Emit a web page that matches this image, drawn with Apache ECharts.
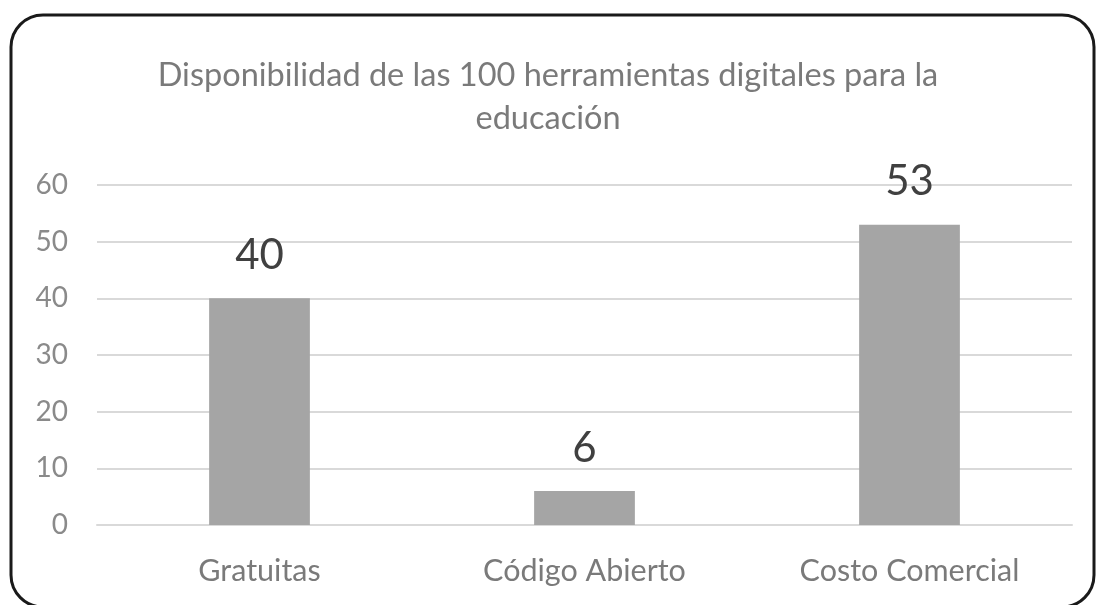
<!DOCTYPE html>
<html>
<head>
<meta charset="utf-8">
<script src="https://cdn.jsdelivr.net/npm/echarts@6/dist/echarts.min.js"></script>
<style>
  html, body { margin: 0; padding: 0; background: #fff; }
  #chart { width: 1096px; height: 605px; }
</style>
</head>
<body>
<div id="chart"></div>
<script>
const categories = ['Gratuitas', 'Código Abierto', 'Costo Comercial']
const values = [40, 6, 53]
const titleText = 'Disponibilidad de las 100 herramientas digitales para la\neducación'

const font = 'Lato'
const chart = echarts.init(document.getElementById('chart'))

chart.setOption({
  backgroundColor: '#fff',
  animation: false,
  title: {
    text: titleText,
    left: 'center',
    top: 49,
    textStyle: {
      fontFamily: font,
      fontSize: 32.5,
      fontWeight: 'normal',
      color: '#7a7a7a',
      lineHeight: 43
    }
  },
  graphic: [
    {
      type: 'rect',
      shape: { x: 11, y: 15, width: 1083, height: 592, r: 32 },
      style: { fill: 'none', stroke: '#1a1a1a', lineWidth: 3 },
      z: 10
    }
  ],
  grid: { left: 97, right: 24, top: 185, bottom: 80 },
  xAxis: {
    type: 'category',
    data: categories,
    axisLine: { lineStyle: { color: '#d9d9d9', width: 2 } },
    axisTick: { show: false },
    axisLabel: {
      fontFamily: font,
      fontSize: 30.5,
      color: '#7a7a7a',
      margin: 31
    }
  },
  yAxis: {
    type: 'value',
    min: 0,
    max: 60,
    interval: 10,
    axisLine: { show: false },
    axisTick: { show: false },
    splitLine: { lineStyle: { color: '#d9d9d9', width: 2 } },
    axisLabel: {
      fontFamily: font,
      fontSize: 28,
      color: '#8a8a8a',
      margin: 29
    }
  },
  series: [
    {
      type: 'bar',
      data: values,
      barWidth: '31%',
      itemStyle: { color: '#a5a5a5' },
      label: {
        show: true,
        position: 'top',
        distance: 22,
        fontFamily: font,
        fontSize: 42,
        color: '#404040'
      }
    }
  ]
})
</script>
</body>
</html>
